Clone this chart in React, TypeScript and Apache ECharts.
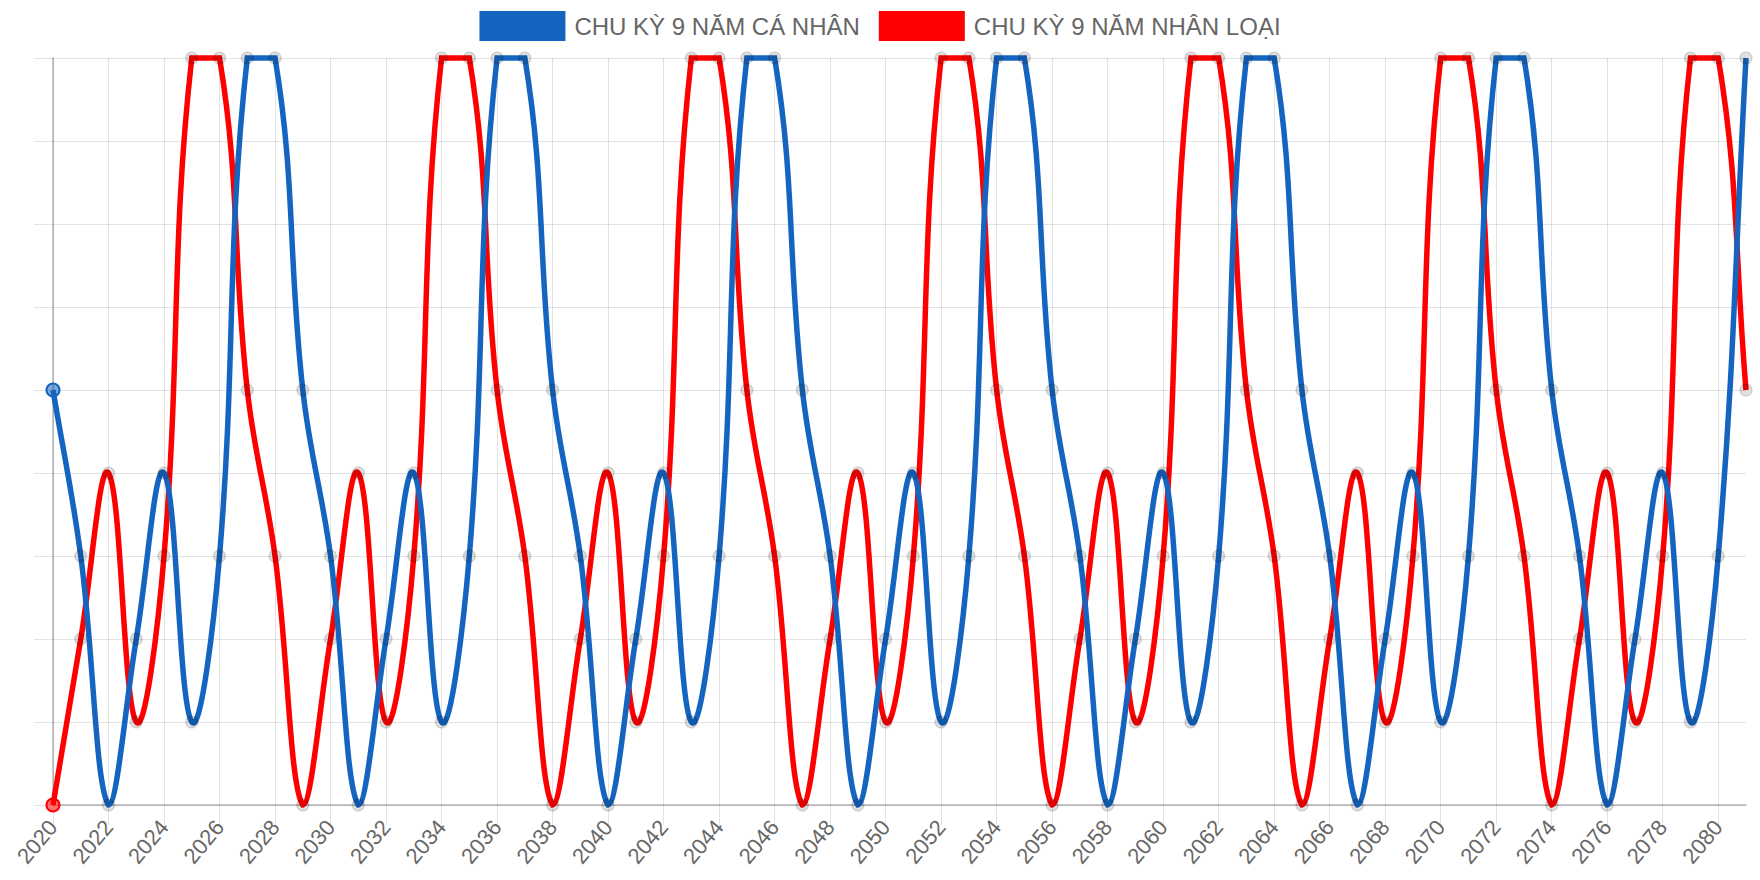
import React, { useEffect, useRef } from "react";
import * as echarts from "echarts";

const years: string[] = [
  "2020", "2021", "2022", "2023", "2024", "2025", "2026", "2027", "2028", "2029",
  "2030", "2031", "2032", "2033", "2034", "2035", "2036", "2037", "2038", "2039",
  "2040", "2041", "2042", "2043", "2044", "2045", "2046", "2047", "2048", "2049",
  "2050", "2051", "2052", "2053", "2054", "2055", "2056", "2057", "2058", "2059",
  "2060", "2061", "2062", "2063", "2064", "2065", "2066", "2067", "2068", "2069",
  "2070", "2071", "2072", "2073", "2074", "2075", "2076", "2077", "2078", "2079",
  "2080", "2081",
];

// CHU KỲ 9 NĂM CÁ NHÂN (blue)
const personalCycle: number[] = [
  5, 3,
  0, 2, 4, 1, 3, 9, 9, 5, 3,
  0, 2, 4, 1, 3, 9, 9, 5, 3,
  0, 2, 4, 1, 3, 9, 9, 5, 3,
  0, 2, 4, 1, 3, 9, 9, 5, 3,
  0, 2, 4, 1, 3, 9, 9, 5, 3,
  0, 2, 4, 1, 3, 9, 9, 5, 3,
  0, 2, 4, 1, 3, 9,
];

// CHU KỲ 9 NĂM NHÂN LOẠI (red)
const humanCycle: number[] = [
  0, 2, 4, 1, 3, 9, 9, 5, 3,
  0, 2, 4, 1, 3, 9, 9, 5, 3,
  0, 2, 4, 1, 3, 9, 9, 5, 3,
  0, 2, 4, 1, 3, 9, 9, 5, 3,
  0, 2, 4, 1, 3, 9, 9, 5, 3,
  0, 2, 4, 1, 3, 9, 9, 5, 3,
  0, 2, 4, 1, 3, 9, 9, 5,
];

const seriesNames = ["CHU KỲ 9 NĂM CÁ NHÂN", "CHU KỲ 9 NĂM NHÂN LOẠI"];
const BLUE = "#1565c0";
const RED = "#ff0000";
const FONT = "'Liberation Sans', Arial, Helvetica, sans-serif";
const GRID = "rgba(0,0,0,0.11)";
const AXIS = "rgba(0,0,0,0.28)";
const TENSION = 0.4;
const LINE_WIDTH = 5.5;

function buildData(values: number[], color: string, fill: string) {
  return values.map((v, i) =>
    i === 0
      ? {
          value: v,
          symbolSize: 13,
          itemStyle: { color: fill, borderColor: color, borderWidth: 2 },
        }
      : v
  );
}

// Spline through points (tension-based, control points capped to the plot area)
function makeRenderItem(values: number[], color: string) {
  return (params: any, api: any) => {
    const area = params.coordSys;
    const left = area.x;
    const right = area.x + area.width;
    const top = area.y;
    const bottom = area.y + area.height;
    const clampX = (v: number) => Math.min(right, Math.max(left, v));
    const clampY = (v: number) => Math.min(bottom, Math.max(top, v));
    const pts: number[][] = values.map((v, i) => api.coord([i, v]));
    const n = pts.length;
    const cps = pts.map((cur, i) => {
      const prev = i > 0 ? pts[i - 1] : cur;
      const next = i < n - 1 ? pts[i + 1] : cur;
      const d01 = Math.hypot(cur[0] - prev[0], cur[1] - prev[1]);
      const d12 = Math.hypot(next[0] - cur[0], next[1] - cur[1]);
      let s01 = d01 / (d01 + d12);
      let s12 = d12 / (d01 + d12);
      if (isNaN(s01)) s01 = 0;
      if (isNaN(s12)) s12 = 0;
      const fa = TENSION * s01;
      const fb = TENSION * s12;
      return {
        px: clampX(cur[0] - fa * (next[0] - prev[0])),
        py: clampY(cur[1] - fa * (next[1] - prev[1])),
        nx: clampX(cur[0] + fb * (next[0] - prev[0])),
        ny: clampY(cur[1] + fb * (next[1] - prev[1])),
      };
    });
    let d = `M${pts[0][0]},${pts[0][1]}`;
    for (let i = 1; i < n; i++) {
      d += ` C${cps[i - 1].nx},${cps[i - 1].ny} ${cps[i].px},${cps[i].py} ${pts[i][0]},${pts[i][1]}`;
    }
    return {
      type: "path",
      shape: { pathData: d },
      style: { fill: "none", stroke: color, lineWidth: LINE_WIDTH, lineJoin: "miter" },
      silent: true,
    };
  };
}

function pointSeries(name: string, values: number[], color: string, fill: string, z: number) {
  return {
    name,
    type: "line",
    data: buildData(values, color, fill),
    symbol: "circle",
    symbolSize: 12,
    showAllSymbol: true,
    lineStyle: { color, width: 0, opacity: 0 },
    itemStyle: { color: "rgba(0,0,0,0.12)", borderColor: "rgba(0,0,0,0.12)", borderWidth: 1.5 },
    z,
  };
}

function curveSeries(name: string, values: number[], color: string, z: number) {
  return {
    name,
    type: "custom",
    coordinateSystem: "cartesian2d",
    data: [[0, values[0]]],
    renderItem: makeRenderItem(values, color),
    itemStyle: { color },
    z,
    silent: true,
  };
}

export default function App() {
  const ref = useRef<HTMLDivElement>(null);

  useEffect(() => {
    if (!ref.current) return;
    const chart = echarts.init(ref.current, undefined, { renderer: "svg" });
    chart.setOption({
      animation: false,
      textStyle: { fontFamily: FONT },
      legend: {
        top: 11,
        left: "center",
        padding: 0,
        icon: "rect",
        itemWidth: 86,
        itemHeight: 30,
        itemGap: 19,
        itemStyle: { borderWidth: 0 },
        textStyle: { fontSize: 24, color: "#666", fontFamily: FONT, padding: [0, 0, 0, 4] },
        data: [
          { name: seriesNames[0], itemStyle: { color: BLUE, borderWidth: 0 } },
          { name: seriesNames[1], itemStyle: { color: RED, borderWidth: 0 } },
        ],
      },
      grid: { left: 53, right: 14, top: 58, bottom: 75, containLabel: false },
      xAxis: {
        type: "category",
        boundaryGap: false,
        data: years,
        axisLine: { show: true, lineStyle: { color: AXIS, width: 1.5 } },
        axisTick: { show: true, interval: 1, length: 20, lineStyle: { color: GRID } },
        axisLabel: {
          interval: 1,
          rotate: 50,
          fontSize: 22,
          color: "#666",
          fontFamily: FONT,
          margin: 18,
        },
        splitLine: { show: true, interval: 1, lineStyle: { color: GRID, width: 1 } },
      },
      yAxis: {
        type: "value",
        min: 0,
        max: 9,
        interval: 1,
        axisLabel: { show: false },
        axisLine: { show: true, lineStyle: { color: AXIS, width: 1.5 } },
        axisTick: { show: true, length: 19, lineStyle: { color: GRID } },
        splitLine: { show: true, lineStyle: { color: GRID, width: 1 } },
      },
      series: [
        curveSeries(seriesNames[1], humanCycle, RED, 2),
        pointSeries(seriesNames[1], humanCycle, RED, "rgba(255,0,0,0.55)", 3),
        curveSeries(seriesNames[0], personalCycle, BLUE, 4),
        pointSeries(seriesNames[0], personalCycle, BLUE, "rgba(21,101,192,0.55)", 5),
      ],
    });
    return () => chart.dispose();
  }, []);

  return (
    <div
      ref={ref}
      style={{ position: "fixed", left: 0, top: 0, width: 1760, height: 880, background: "#fff" }}
    />
  );
}
